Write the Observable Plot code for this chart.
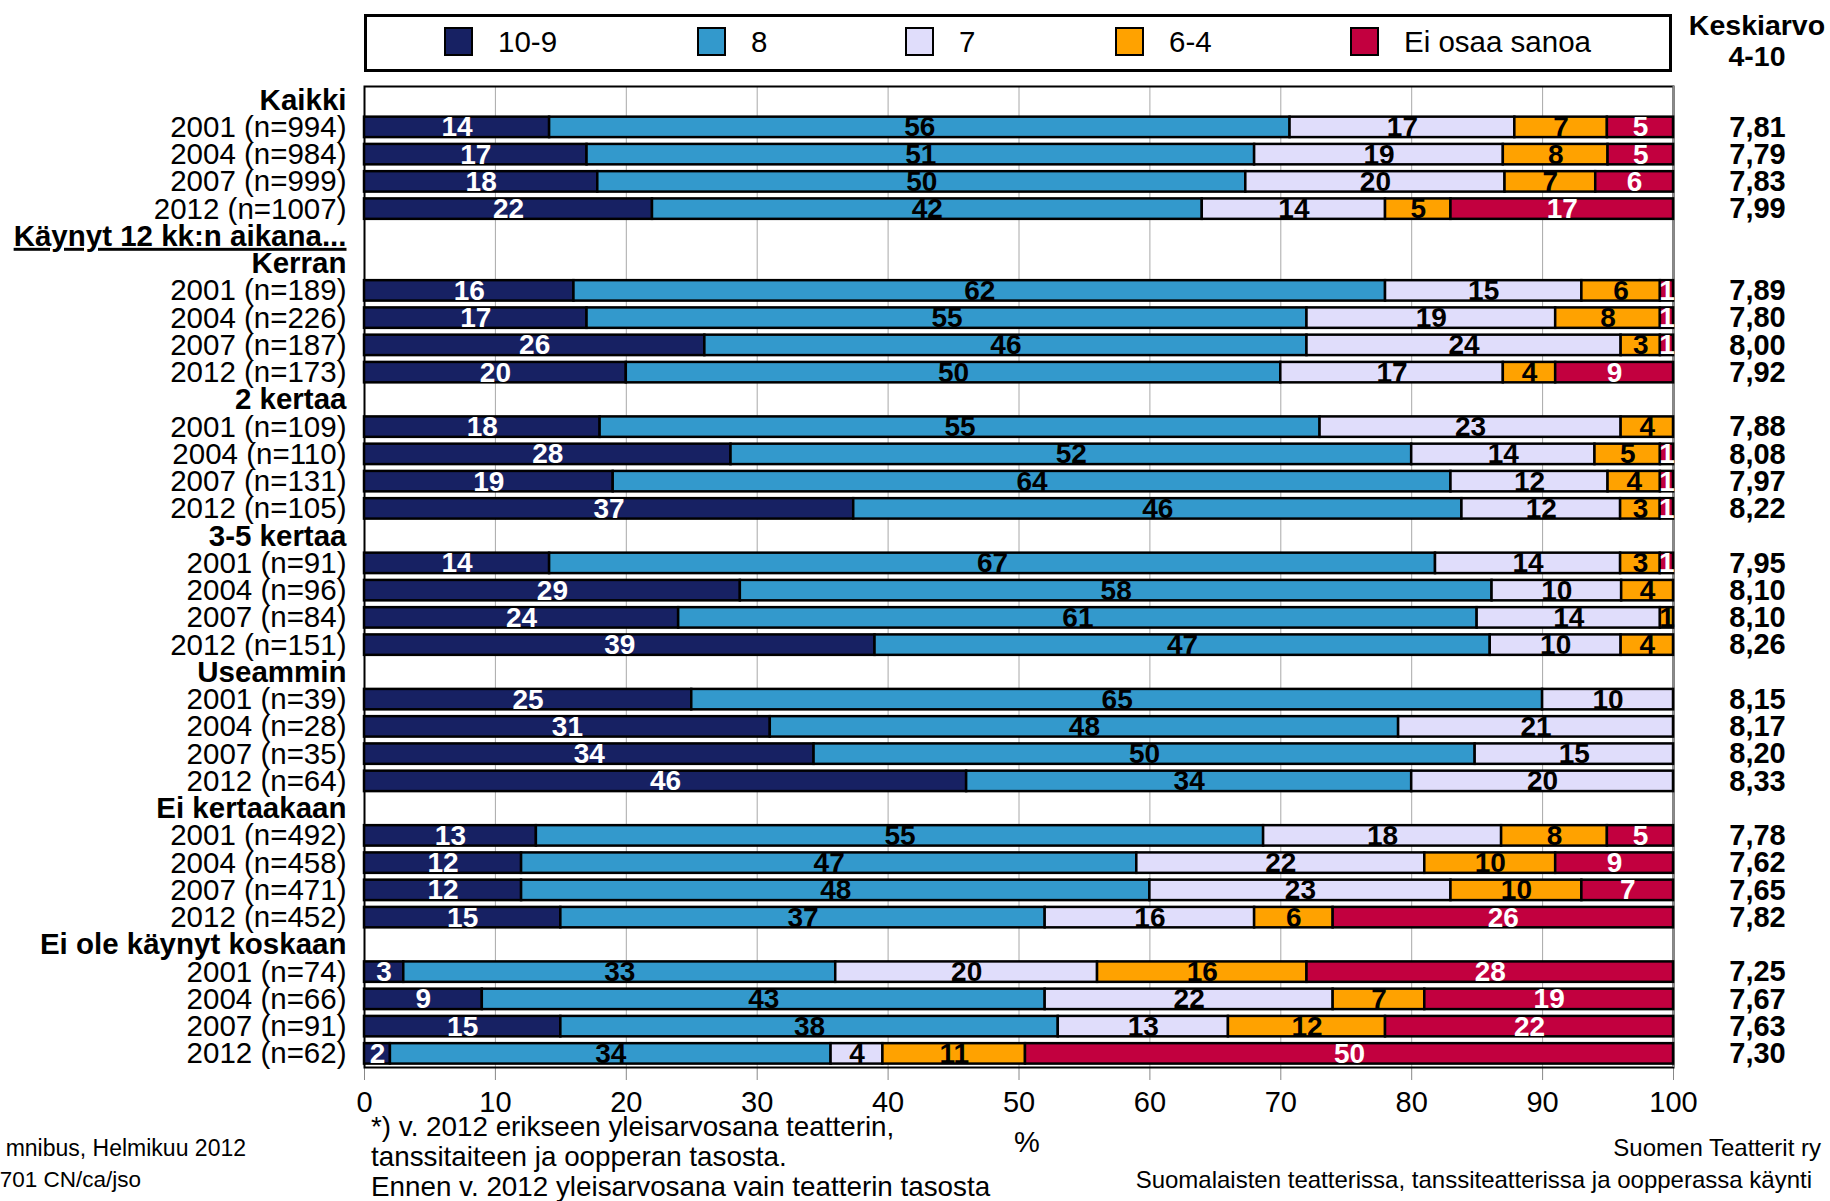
<!DOCTYPE html>
<html><head><meta charset="utf-8">
<script src="https://cdn.jsdelivr.net/npm/d3@7"></script>
<script src="https://cdn.jsdelivr.net/npm/@observablehq/plot@0.6"></script>
<style>
body{margin:0;background:#fff;font-family:"Liberation Sans",Arial,sans-serif;}
#wrap{position:relative;width:1830px;height:1201px;overflow:hidden;background:#fff;}
#wrap svg{position:absolute;left:0;top:0;overflow:visible;font-family:"Liberation Sans",Arial,sans-serif;}
.abs{position:absolute;white-space:nowrap;line-height:1;color:#000;}
</style></head><body><div id="wrap"></div>
<script>
// ---------- data ----------
const categories = ["10-9", "8", "7", "6-4", "Ei osaa sanoa"];
const colors = ["#172163", "#3399CC", "#E0DDFB", "#FFA200", "#C2003F"];
const headers = ["Kaikki", "Käynyt 12 kk:n aikana...", "Kerran", "2 kertaa", "3-5 kertaa", "Useammin", "Ei kertaakaan", "Ei ole käynyt koskaan"];
const barsPerHeader = [4, 0, 4, 4, 4, 4, 4, 4];
const rowLabels = [
  "2001 (n=994)", "2004 (n=984)", "2007 (n=999)", "2012 (n=1007)",
  "2001 (n=189)", "2004 (n=226)", "2007 (n=187)", "2012 (n=173)",
  "2001 (n=109)", "2004 (n=110)", "2007 (n=131)", "2012 (n=105)",
  "2001 (n=91)", "2004 (n=96)", "2007 (n=84)", "2012 (n=151)",
  "2001 (n=39)", "2004 (n=28)", "2007 (n=35)", "2012 (n=64)",
  "2001 (n=492)", "2004 (n=458)", "2007 (n=471)", "2012 (n=452)",
  "2001 (n=74)", "2004 (n=66)", "2007 (n=91)", "2012 (n=62)"
];
const v10_9 = [14,17,18,22, 16,17,26,20, 18,28,19,37, 14,29,24,39, 25,31,34,46, 13,12,12,15, 3,9,15,2];
const v8    = [56,51,50,42, 62,55,46,50, 55,52,64,46, 67,58,61,47, 65,48,50,34, 55,47,48,37, 33,43,38,34];
const v7    = [17,19,20,14, 15,19,24,17, 23,14,12,12, 14,10,14,10, 10,21,15,20, 18,22,23,16, 20,22,13,4];
const v6_4  = [7,8,7,5, 6,8,3,4, 4,5,4,3, 3,4,1,4, 0,0,0,0, 8,10,10,6, 16,7,12,11];
const vEi   = [5,5,6,17, 1,1,1,9, 0,1,1,1, 1,0,0,0, 0,0,0,0, 5,9,7,26, 28,19,22,50];
const means = ["7,81","7,79","7,83","7,99", "7,89","7,80","8,00","7,92", "7,88","8,08","7,97","8,22",
               "7,95","8,10","8,10","8,26", "8,15","8,17","8,20","8,33", "7,78","7,62","7,65","7,82",
               "7,25","7,67","7,63","7,30"];
const xTicks = [0,10,20,30,40,50,60,70,80,90,100];

// ---------- build tables ----------
const series = [v10_9, v8, v7, v6_4, vEi];
const rows = [];
let bi = 0;
headers.forEach((h, hi) => {
  rows.push({key: "h" + hi, label: h, kind: "header"});
  for (let k = 0; k < barsPerHeader[hi]; k++) {
    rows.push({key: "b" + bi, label: rowLabels[bi], kind: "bar", idx: bi});
    bi++;
  }
});
const segs = [];
for (let i = 0; i < rowLabels.length; i++) {
  const vals = series.map(s => s[i]);
  const total = d3.sum(vals);
  let cum = 0;
  vals.forEach((v, c) => {
    if (v <= 0) return;
    const x1 = cum / total * 100; cum += v; const x2 = cum / total * 100;
    segs.push({key: "b" + i, cat: categories[c], ci: c, value: v, x1, x2, mid: (x1 + x2) / 2});
  });
}
const barRows = rows.filter(d => d.kind === "bar");
const headRows = rows.filter(d => d.kind === "header");

// ---------- chart ----------
const chart = Plot.plot({
  width: 1830, height: 1201,
  marginLeft: 364, marginRight: 157, marginTop: 86, marginBottom: 134,
  style: {fontSize: "29px", fontFamily: "Liberation Sans, Arial, sans-serif", overflow: "visible", background: "transparent"},
  x: {domain: [0, 100], ticks: xTicks, tickSize: 13, tickPadding: 11, tickFormat: d => String(d), label: null},
  y: {domain: rows.map(d => d.key), paddingInner: 0.25, paddingOuter: 0.125, round: false, axis: null},
  color: {domain: categories, range: colors, legend: false},
  marks: [
    Plot.ruleX(xTicks, {stroke: "#a8a8a8", strokeWidth: 1}),
    Plot.frame({stroke: "#000", strokeWidth: 2}),
    Plot.ruleX([100], {stroke: "#8a8a8a", strokeWidth: 2}),
    Plot.barX(segs, {x1: "x1", x2: "x2", y: "key", fill: "cat", stroke: "#000", strokeWidth: 2.5}),
    Plot.text(segs.filter(d => d.ci === 0 || d.ci === 4), {x: "mid", y: "key", text: d => String(d.value), fill: "#fff", fontWeight: "bold", fontSize: 28}),
    Plot.text(segs.filter(d => d.ci !== 0 && d.ci !== 4), {x: "mid", y: "key", text: d => String(d.value), fill: "#000", fontWeight: "bold", fontSize: 28}),
    Plot.text(barRows, {y: "key", text: "label", frameAnchor: "left", textAnchor: "end", dx: -18, fontSize: 29.5, fill: "#000"}),
    Plot.text(headRows, {y: "key", text: "label", frameAnchor: "left", textAnchor: "end", dx: -18, fontSize: 29.5, fontWeight: "bold", fill: "#000"}),
    Plot.text(barRows, {y: "key", text: d => means[d.idx], frameAnchor: "right", dx: 84, textAnchor: "middle", fontSize: 29, fontWeight: "bold", fill: "#000"})
  ]
});
d3.select(chart).selectAll("text").filter(function () { return this.textContent.startsWith("Käynyt"); })
  .attr("text-decoration", "underline");
d3.select(chart).selectAll("[aria-label='x-axis tick'] path, [aria-label='x-axis'] line").attr("stroke", "#888");

const wrap = document.getElementById("wrap");
wrap.appendChild(chart);

// ---------- legend and annotations ----------
function place(text, x, y, opts = {}) {
  const d = document.createElement("div");
  d.className = "abs";
  d.textContent = text;
  d.style.left = x + "px";
  d.style.top = y + "px";
  d.style.fontSize = (opts.size || 28) + "px";
  if (opts.bold) d.style.fontWeight = "bold";
  const tx = opts.anchor === "end" ? "-100%" : opts.anchor === "middle" ? "-50%" : "0";
  d.style.transform = `translate(${tx},-50%)`;
  wrap.appendChild(d);
  return d;
}
const box = document.createElement("div");
Object.assign(box.style, {position: "absolute", left: "364px", top: "14px", width: "1308px", height: "58px",
  border: "3px solid #000", boxSizing: "border-box", background: "#fff"});
wrap.appendChild(box);
const legendX = [444, 697, 905, 1115, 1350];
categories.forEach((c, i) => {
  const s = document.createElement("div");
  Object.assign(s.style, {position: "absolute", left: legendX[i] + "px", top: "27px", width: "29px", height: "29px",
    background: colors[i], border: "2.5px solid #000", boxSizing: "border-box"});
  wrap.appendChild(s);
  place(c, legendX[i] + 54, 42, {size: 29.5});
});
place("Keskiarvo", 1757, 25, {size: 28.5, bold: true, anchor: "middle"});
place("4-10", 1757, 56, {size: 28.5, bold: true, anchor: "middle"});
place("%", 1027, 1142, {size: 29, anchor: "middle"});
place("*) v. 2012 erikseen yleisarvosana teatterin,", 371, 1127, {size: 27.8});
place("tanssitaiteen ja oopperan tasosta.", 371, 1157, {size: 27.8});
place("Ennen v. 2012 yleisarvosana vain teatterin tasosta", 371, 1187, {size: 27.8});
place("mnibus, Helmikuu 2012", 246, 1148, {size: 23, anchor: "end"});
place("701 CN/ca/jso", 141, 1180, {size: 22.5, anchor: "end"});
place("Suomen Teatterit ry", 1821, 1148, {size: 24, anchor: "end"});
place("Suomalaisten teatterissa, tanssiteatterissa ja oopperassa käynti", 1812, 1180, {size: 24, anchor: "end"});
</script></body></html>
